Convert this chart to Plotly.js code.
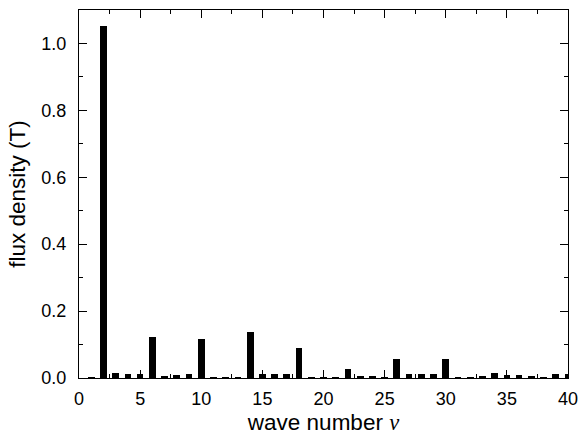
<!DOCTYPE html>
<html>
<head>
<meta charset="utf-8">
<script src="https://cdn.plot.ly/plotly-3.0.1.min.js"></script>
<style>html,body{margin:0;padding:0;background:#fff;}#chart{width:582px;height:436px;}</style>
</head>
<body>
<div id="chart"></div>
<script>
const waveNumbers = [1,2,3,4,5,6,7,8,9,10,11,12,13,14,15,16,17,18,19,20,21,22,23,24,25,26,27,28,29,30,31,32,33,34,35,36,37,38,39,40];
const fluxDensity = [0.003,1.052,0.014,0.012,0.012,0.124,0.007,0.009,0.011,0.116,0.003,0.003,0.003,0.139,0.013,0.012,0.013,0.090,0.003,0.002,0.004,0.027,0.007,0.006,0.003,0.058,0.013,0.012,0.012,0.056,0.004,0.004,0.005,0.016,0.010,0.008,0.006,0.004,0.012,0.012];
const xTickVals = [0,5,10,15,20,25,30,35,40];
const yTickVals = [0.0,0.2,0.4,0.6,0.8,1.0];

const font = 'Liberation Sans, Arial, Helvetica, sans-serif';
const trace = {
  type: 'bar',
  x: waveNumbers,
  y: fluxDensity,
  width: 0.55,
  marker: {color: '#000000', line: {width: 0}},
  hoverinfo: 'skip'
};
const axisCommon = {
  showgrid: false,
  zeroline: false,
  showline: true,
  linecolor: '#000',
  linewidth: 1,
  mirror: 'ticks',
  ticks: 'inside',
  ticklen: 8,
  tickwidth: 1,
  tickcolor: '#000',
  tickfont: {family: font, size: 18, color: '#000'}
};
const layout = {
  width: 582, height: 436,
  margin: {l: 79, r: 14, t: 10, b: 58},
  paper_bgcolor: '#fff', plot_bgcolor: '#fff',
  showlegend: false,
  bargap: 0,
  xaxis: Object.assign({}, axisCommon, {
    range: [0, 40],
    tickvals: xTickVals,
    ticktext: xTickVals.map(String),
    ticklabelstandoff: 4,
    minor: {dtick: 2.5, tick0: 0, ticks: 'inside', ticklen: 4, tickcolor: '#000', tickwidth: 1, showgrid: false},
    title: {text: 'wave number <span style="font-family:Liberation Serif, serif"><i>ν</i></span>', font: {family: font, size: 22.5, color: '#000'}, standoff: 6}
  }),
  yaxis: Object.assign({}, axisCommon, {
    range: [0, 1.1],
    tickvals: yTickVals,
    ticktext: yTickVals.map(v => v.toFixed(1)),
    ticklabelstandoff: 8,
    minor: {dtick: 0.1, tick0: 0, ticks: 'inside', ticklen: 4, tickcolor: '#000', tickwidth: 1, showgrid: false},
    title: {text: 'flux density (T)', font: {family: font, size: 22.5, color: '#000'}, standoff: 9}
  })
};
Plotly.newPlot('chart', [trace], layout, {staticPlot: true, displayModeBar: false});
</script>
</body>
</html>
